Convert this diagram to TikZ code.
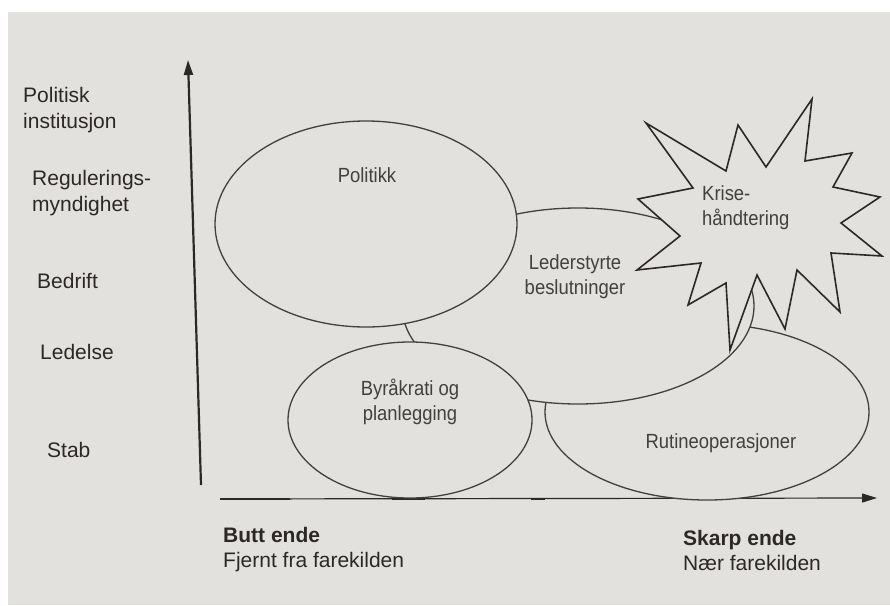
\documentclass[tikz,border=0pt]{standalone}
\usepackage{fontspec}
\setmainfont{Liberation Sans}
\newfontfamily\narrowsans{Liberation Sans}[FakeStretch=0.9]
\usetikzlibrary{arrows.meta, shapes.geometric, positioning}
\definecolor{paper}{RGB}{226,225,221}
\definecolor{ink}{RGB}{66,64,64}
\definecolor{axisink}{RGB}{45,40,40}

\begin{document}
\begin{tikzpicture}[x=1pt, y=-1pt, >={Triangle[length=15pt, width=9pt]},
  blob/.style={ellipse, draw=ink, line width=1.3pt, fill=paper, inner sep=0pt},
  lvl/.style={font=\fontsize{21}{26}\selectfont, text=axisink, inner sep=0pt, align=left},
  inlbl/.style={font=\narrowsans\fontsize{20.5}{25}\selectfont, text=ink, inner sep=0pt, align=center},
  endlbl/.style={font=\fontsize{21}{25}\selectfont, text=axisink, inner sep=0pt, align=left}]
  % Page
  \fill[white] (0,0) rectangle (890,605);
  \fill[paper] (8,12) rectangle (890,605);
  \useasboundingbox (0,0) rectangle (890,605);
  % Axes
  \coordinate (origin) at (201,485);
  \coordinate (ytop) at (188,60);
  \coordinate (xstart) at (220,499);
  \coordinate (xend) at (877,498);
  \draw[axisink, line width=2.2pt, ->] (origin) -- (ytop);
  \draw[axisink, line width=1.2pt, ->] (xstart) -- (xend);
  \draw[axisink, line width=2.6pt] (220,499) -- (290,499);
  \draw[axisink, line width=2.4pt] (392,499) -- (425,499);
  \draw[axisink, line width=2.4pt] (531,499) -- (545,499);
  % Levels
  \node[lvl, anchor=west] (polinst) at (23,110) {Politisk\\institusjon};
  \node[lvl, anchor=west] (regmynd) at (32,193) {Regulerings-\\myndighet};
  \node[lvl, anchor=base west] (bedrift) at (37,288) {Bedrift};
  \node[lvl, anchor=base west] (ledelse) at (40,359) {Ledelse};
  \node[lvl, anchor=base west] (stab) at (47,457) {Stab};
  % Areas (back to front)
  \node[blob, minimum width=324pt, minimum height=176pt] (rutine) at (707,412) {};
  \node[blob, minimum width=352pt, minimum height=196pt] (leder) at (578,306) {};
  \node[blob, minimum width=302pt, minimum height=206pt] (politikk) at (366,224) {};
  \node[blob, minimum width=244pt, minimum height=156pt] (byraakrati) at (410,420) {};
  % Crisis star
  \draw[axisink, line width=1.6pt, line join=miter, fill=paper]
    (646,123) -- (726,171) -- (738,125) -- (766,167) -- (812,99) --
    (805,161) -- (852,153) -- (833,187) -- (880,197) -- (841,223) --
    (882,256) -- (831,253) -- (840,312) -- (797,270) -- (785,329) --
    (757,275) -- (730,350) -- (726,283) -- (688,305) -- (701,263) --
    (637,270) -- (680,236) -- (638,199) -- (693,188) -- cycle;
  % Labels
  \node[inlbl, anchor=base] (tpolitikk) at (367,182) {Politikk};
  \node[inlbl] (tleder) at (575,277) {Lederstyrte\\beslutninger};
  \node[inlbl, align=left, anchor=west] (tkrise) at (702,208) {Krise-\\håndtering};
  \node[inlbl] (tbyraakrati) at (410,402) {Byråkrati og\\planlegging};
  \node[inlbl, anchor=base] (trutine) at (721,448) {Rutineoperasjoner};
  % Ends of the axis
  \node[endlbl, anchor=west] (butt) at (223,550) {\textbf{Butt ende}\\Fjernt fra farekilden};
  \node[endlbl, anchor=west] (skarp) at (683,550) {\textbf{Skarp ende}\\Nær farekilden};
\end{tikzpicture}
\end{document}
